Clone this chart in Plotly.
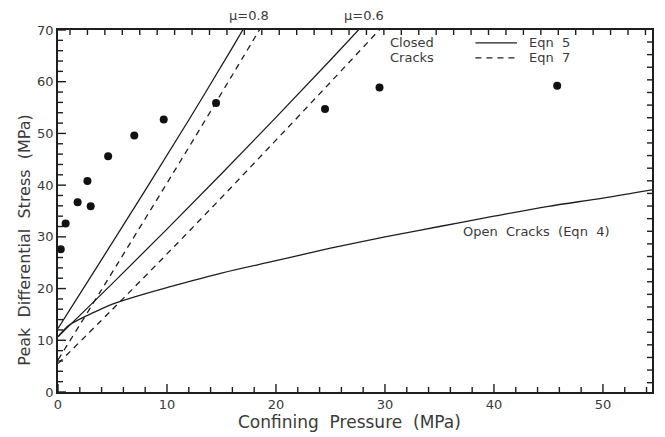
import plotly.graph_objects as go

# Measured data (confining pressure, peak differential stress), MPa
data_x = [0.25, 0.7, 1.8, 2.7, 3.0, 4.6, 7.0, 9.7, 14.5, 24.5, 29.5, 45.8]
data_y = [27.6, 32.6, 36.7, 40.8, 35.9, 45.6, 49.6, 52.7, 55.9, 54.7, 58.9, 59.2]

# Closed cracks, mu = 0.8
eqn5_mu08_x = [0, 4, 8, 12, 16, 18]
eqn5_mu08_y = [12.3, 25.6, 39.0, 52.6, 66.6, 73.8]
eqn7_mu08_x = [0, 4, 8, 12, 16, 20]
eqn7_mu08_y = [6.2, 19.8, 33.5, 47.3, 61.3, 75.4]

# Closed cracks, mu = 0.6
eqn5_mu06_x = [0, 5, 10, 15, 20, 25, 30]
eqn5_mu06_y = [10.7, 21.0, 31.5, 42.2, 53.1, 64.2, 75.5]
eqn7_mu06_x = [0, 5, 10, 15, 20, 25, 30, 32]
eqn7_mu06_y = [5.5, 16.0, 26.7, 37.6, 48.7, 59.9, 71.2, 75.8]

# Open cracks (Eqn 4)
open_x = [0, 1, 2, 3, 5, 7.5, 10, 15, 20, 25, 30, 35, 40, 45, 50, 54.5]
open_y = [10.7, 12.9, 14.1, 15.1, 17.0, 18.7, 20.2, 23.0, 25.4, 27.8, 30.0, 32.0, 34.0, 35.9, 37.5, 39.1]

# Tick labels and tick mark positions
x_labels = [0, 10, 20, 30, 40, 50]
y_labels = [0, 10, 20, 30, 40, 50, 60, 70]
x_minor = [v for v in range(0, 55, 2) if v % 10 != 0]
y_minor = [v for v in range(0, 71, 2) if v % 10 != 0]
top_ticks = [1.1 + 1.6 * i for i in range(34)]
right_ticks = [1.8 + 2.44 * i for i in range(28)]

X_MAX, Y_MAX = 54.5, 70
PLOT_W, PLOT_H = 596, 362      # plot area in px

INK = "#1e1e1e"
TXT = "#3a3a3a"
FONT = "DejaVu Sans"
DASH = "6px,5px"

fig = go.Figure()

def line(x, y, dash=None):
    fig.add_trace(go.Scatter(x=x, y=y, mode="lines", line_shape="spline",
                             line=dict(color=INK, width=1.3, dash=dash),
                             showlegend=False, hoverinfo="skip"))

line(eqn5_mu08_x, eqn5_mu08_y)
line(eqn7_mu08_x, eqn7_mu08_y, DASH)
line(eqn5_mu06_x, eqn5_mu06_y)
line(eqn7_mu06_x, eqn7_mu06_y, DASH)
line(open_x, open_y)

fig.add_trace(go.Scatter(x=data_x, y=data_y, mode="markers",
                         marker=dict(color="#111111", size=8),
                         showlegend=False))

# tick marks drawn as short inward strokes on the frame
TICK = dict(color=INK, width=1.4)

def xtick(v, length, top=False):
    if v > X_MAX:
        return
    h = length / PLOT_H
    y0, y1 = (1, 1 - h) if top else (0, h)
    fig.add_shape(type="line", xref="x", yref="paper", x0=v, x1=v, y0=y0, y1=y1,
                  line=TICK, layer="above")

def ytick(v, length, right=False):
    if v > Y_MAX:
        return
    w = length / PLOT_W
    x0, x1 = (1, 1 - w) if right else (0, w)
    fig.add_shape(type="line", xref="paper", yref="y", x0=x0, x1=x1, y0=v, y1=v,
                  line=TICK, layer="above")

for v in x_labels:
    xtick(v, 8)
for v in x_minor:
    xtick(v, 5)
for v in top_ticks:
    xtick(v, 5, top=True)
for v in y_labels:
    ytick(v, 8)
for v in y_minor:
    ytick(v, 5)
for v in right_ticks:
    ytick(v, 5, right=True)

# legend keys (in data coordinates)
fig.add_shape(type="line", x0=38.3, x1=42.1, y0=67.5, y1=67.5, xref="x", yref="y",
              line=dict(color=INK, width=1.3))
fig.add_shape(type="line", x0=38.3, x1=42.1, y0=64.6, y1=64.6, xref="x", yref="y",
              line=dict(color=INK, width=1.3, dash=DASH))

def ann(text, x, y, xanchor="left", xref="x", yref="y", size=13, angle=0):
    fig.add_annotation(text=text, x=x, y=y, xref=xref, yref=yref, xanchor=xanchor,
                       yanchor="middle", showarrow=False, textangle=angle,
                       font=dict(family=FONT, size=size, color=TXT))

ann("Eqn  5", 43.0, 67.5)
ann("Eqn  7", 43.0, 64.6)
ann("Closed", 30.3, 67.5)
ann("Cracks", 30.3, 64.6)
ann("Open  Cracks  (Eqn  4)", 37.0, 31.0)
ann("\u03bc=0.8", 17.5, 1.041, xanchor="center", yref="paper")
ann("\u03bc=0.6", 28.1, 1.041, xanchor="center", yref="paper")
ann("Confining  Pressure  (MPa)", 0.49, -0.082, xanchor="center", xref="paper",
    yref="paper", size=17)
ann("Peak  Differential  Stress  (MPa)", -0.056, 0.42, xanchor="center", xref="paper",
    yref="paper", size=16, angle=-90)

axis_common = dict(showgrid=False, zeroline=False, showline=True, mirror=True,
                   linecolor=INK, linewidth=1.5, ticks="",
                   tickfont=dict(family=FONT, size=13, color=TXT))

fig.update_layout(
    width=657, height=429,
    margin=dict(l=50, r=11, t=22, b=45),
    paper_bgcolor="white", plot_bgcolor="white",
    showlegend=False,
    xaxis=dict(range=[0, X_MAX], tickmode="array", tickvals=x_labels, **axis_common),
    yaxis=dict(range=[0, Y_MAX], tickmode="array", tickvals=y_labels, **axis_common),
)

fig.write_html("out.html")
